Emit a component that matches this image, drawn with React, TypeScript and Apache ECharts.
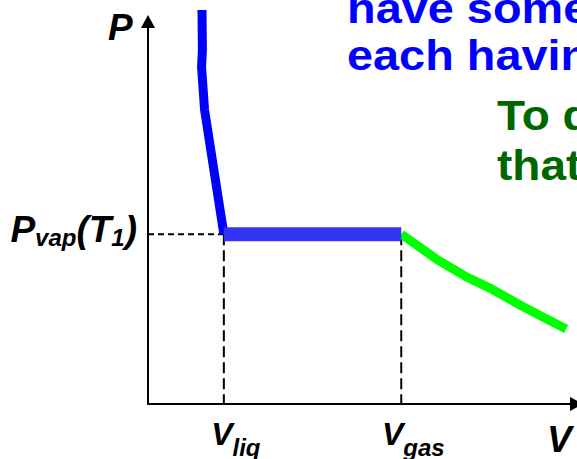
import React, { useEffect, useRef } from "react";
import * as echarts from "echarts";

// Phase-diagram quantities (arbitrary units on both axes, 0..100)
const V_LIQ = 17.7;
const V_GAS = 59.1;
const P_VAP = 44.4;

// Liquid branch: steep, nearly incompressible
const liquidV = [12.6, 12.7, 12.5, 13.2, V_LIQ];
const liquidP = [103.0, 92.5, 88.1, 76.9, P_VAP];

// Vapour branch: pressure falls off with volume
const vaporV = [V_GAS, 67.7, 74.4, 79.8, 86.8, 92.6, 97.6];
const vaporP = [P_VAP, 37.6, 33.2, 30.3, 25.9, 22.5, 19.6];

// Coexistence plateau at the vapour pressure
const plateauV = [V_LIQ, V_GAS];

const blueLines = ["have some liquid and gas", "each having the same"];
const greenLines = ["To determine", "that"];

const FAMILY = '"Liberation Sans", Arial, Helvetica, sans-serif';

const zip = (xs: number[], ys: number[]) => xs.map((x, i) => [x, ys[i]]);

export default function App() {
  const ref = useRef<HTMLDivElement>(null);

  useEffect(() => {
    const chart = echarts.init(ref.current!, null, { renderer: "svg" });

    const axisCommon = {
      type: "value",
      min: 0,
      max: 100,
      axisLine: {
        show: true,
        lineStyle: { color: "#000", width: 2 },
        symbol: ["none", "triangle"],
        symbolSize: [14, 13],
      },
      axisTick: { show: false },
      axisLabel: { show: false },
      splitLine: { show: false },
    };

    const lineBase = {
      type: "line",
      showSymbol: false,
      symbol: "none",
      clip: false,
      silent: true,
      smooth: false,
    };

    chart.setOption({
      animation: false,
      grid: { left: 148, top: 21.5, right: 0.5, bottom: 55 },
      xAxis: axisCommon,
      yAxis: axisCommon,
      series: [
        {
          ...lineBase,
          name: "pvap-guide",
          data: [
            [0, P_VAP],
            [V_LIQ, P_VAP],
          ],
          lineStyle: { color: "#000", width: 2, type: [6, 4] },
          z: 1,
        },
        {
          ...lineBase,
          name: "vliq-guide",
          data: [
            [V_LIQ, P_VAP],
            [V_LIQ, 0],
          ],
          lineStyle: { color: "#000", width: 2, type: [11, 5] },
          z: 1,
        },
        {
          ...lineBase,
          name: "vgas-guide",
          data: [
            [V_GAS, P_VAP],
            [V_GAS, 0],
          ],
          lineStyle: { color: "#000", width: 2, type: [11, 5] },
          z: 1,
        },
        {
          ...lineBase,
          name: "liquid",
          data: zip(liquidV, liquidP),
          lineStyle: { color: "#0000ff", width: 9, cap: "butt", join: "miter" },
          z: 3,
        },
        {
          ...lineBase,
          name: "vapor",
          data: zip(vaporV, vaporP),
          lineStyle: { color: "#00ff00", width: 9, cap: "butt", join: "miter" },
          z: 3,
        },
        {
          ...lineBase,
          name: "plateau",
          data: plateauV.map((v) => [v, P_VAP]),
          lineStyle: { color: "#3333f6", width: 14, cap: "butt" },
          z: 4,
        },
      ],
    });

    const px = (v: number, p: number) =>
      chart.convertToPixel({ gridIndex: 0 }, [v, p]) as number[];

    const italicStyle = (size: number, lineHeight: number, extra: any = {}) => ({
      fontFamily: FAMILY,
      fontWeight: "bold",
      fontStyle: "italic",
      fontSize: size,
      lineHeight,
      fill: "#000",
      ...extra,
    });

    const plainText = (
      x: number,
      y: number,
      text: string,
      size: number,
      fill: string,
      italic = false,
      scaleX = 1
    ) => ({
      type: "text",
      x,
      y,
      scaleX,
      silent: true,
      style: {
        text,
        fill,
        font: `${italic ? "italic " : ""}bold ${size}px ${FAMILY}`,
        align: "left",
        textAlign: "left",
        verticalAlign: "middle",
        textVerticalAlign: "middle",
      },
    });

    const subLabel = (
      x: number,
      y: number,
      text: string,
      mainSize: number,
      mainLH: number,
      align: string
    ) => ({
      type: "text",
      x,
      y,
      silent: true,
      style: {
        text,
        fill: "#000",
        fontFamily: FAMILY,
        fontWeight: "bold",
        fontStyle: "italic",
        fontSize: mainSize,
        align,
        textAlign: align,
        verticalAlign: "middle",
        textVerticalAlign: "middle",
        rich: {
          m: italicStyle(mainSize, mainLH),
          s: italicStyle(24, 24, { verticalAlign: "bottom" }),
        },
      },
    });

    const [axX, topY] = px(0, 100);
    const [endX, axY] = px(100, 0);
    const [, pvY] = px(0, P_VAP);
    const [liqX] = px(V_LIQ, 0);
    const [gasX] = px(V_GAS, 0);

    chart.setOption({
      graphic: [
        plainText(axX - 40, topY + 5.7, "P", 37, "#000", true),
        plainText(endX - 29.5, axY + 35, "V", 37, "#000", true),
        subLabel(axX - 11, pvY - 5, "{m|P}{s|vap}{m|(T}{s|1}{m|)}", 37, 41, "right"),
        subLabel(liqX + 12, axY + 30, "{m|V}{s|liq}", 32, 50, "center"),
        subLabel(gasX + 12, axY + 30, "{m|V}{s|gas}", 32, 50, "center"),
        plainText(347, 8.1, blueLines[0], 43, "#0000ff", false, 1.09),
        plainText(347, 55.1, blueLines[1], 43, "#0000ff", false, 1.09),
        plainText(497, 115.1, greenLines[0], 43, "#006600", false, 1.07),
        plainText(497, 165.1, greenLines[1], 43, "#006600", false, 1.07),
      ],
    });

    return () => chart.dispose();
  }, []);

  return (
    <div
      ref={ref}
      style={{
        position: "fixed",
        left: 0,
        top: 0,
        width: 577,
        height: 459,
        background: "#fff",
      }}
    />
  );
}
